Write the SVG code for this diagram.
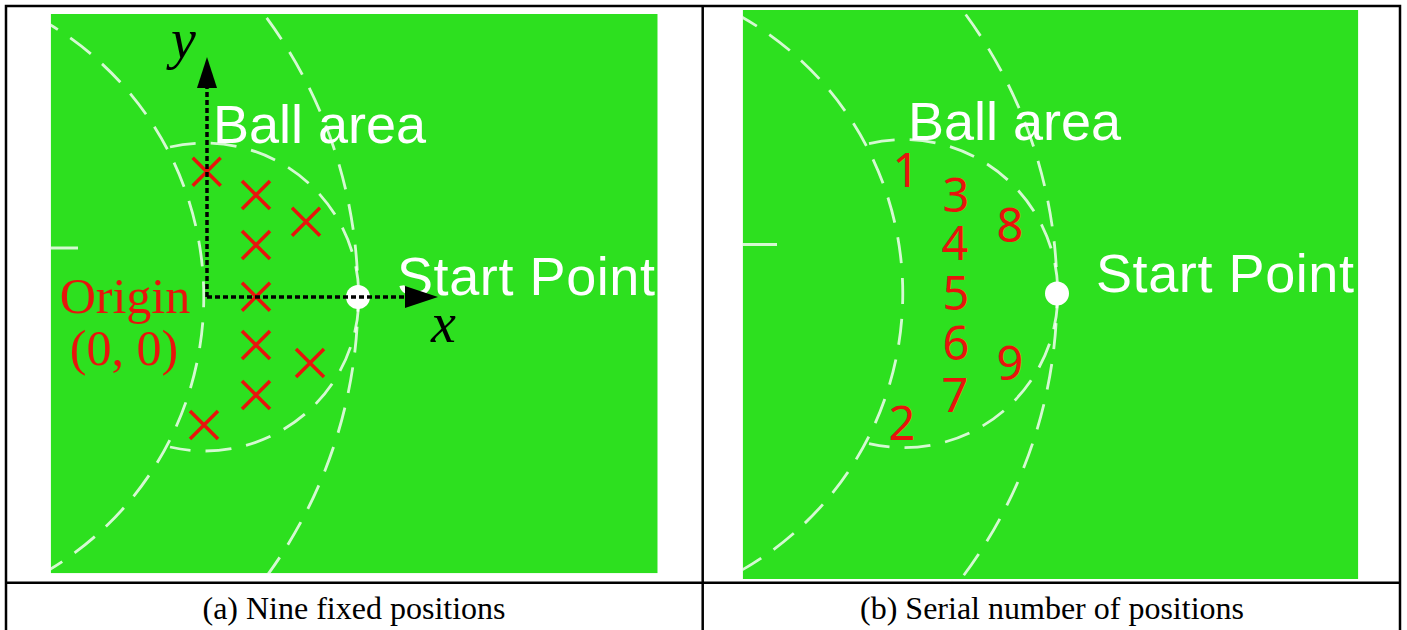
<svg xmlns="http://www.w3.org/2000/svg" xmlns:xlink="http://www.w3.org/1999/xlink" width="1407" height="630" viewBox="0 0 1407 630">
<style>
.grid{stroke:#000;stroke-width:2.5;fill:none}
.field{fill:#2de01f}
.arc{fill:none;stroke:#fff;stroke-opacity:0.8;stroke-width:2.8;stroke-dasharray:26 15}
.axis{fill:none;stroke:#000;stroke-width:3.5;stroke-dasharray:5 3}
.cross{stroke:#e8140c;stroke-width:3.5;fill:none}
.lbl{font-family:"Liberation Sans",Arial,sans-serif;font-size:54px;fill:#fff}
.num{font-family:"Noto Sans","DejaVu Sans",sans-serif;font-size:47px;fill:#e8140c;text-anchor:middle}
.red{font-family:"Liberation Serif","Times New Roman",serif;font-size:50px;fill:#e8140c;text-anchor:middle}
.it{font-family:"Liberation Serif","Times New Roman",serif;font-style:italic;font-size:56px;fill:#000}
.cap{font-family:"Liberation Serif","Times New Roman",serif;font-size:32px;fill:#000;text-anchor:middle}
</style>
<defs>
<clipPath id="ca"><rect x="50.7" y="14" width="607" height="559.3"/></clipPath>
<clipPath id="cb"><rect x="742.7" y="10" width="615.6" height="569"/></clipPath>
<g id="lines">
<path class="arc" style="stroke-dashoffset:5.2" d="M40 18.9 A318 318 0 0 1 40 575.1"/>
<path class="arc" style="stroke-dashoffset:10" d="M247.6 -6.4 A472 472 0 0 1 247.6 600.4"/>
<path class="arc" d="M170 147 A154 154 0 1 1 170 447"/>
<path d="M40 248H78" stroke="#fff" stroke-opacity="0.8" stroke-width="3"/>
<circle cx="358" cy="297" r="12" fill="#fff"/>
</g>
</defs>

<g id="table">
<path class="grid" d="M6 6H1400M6 4.8V630M1400 4.8V630M702.7 6V630M6 582.7H1400"/>
</g>

<g id="panel-a" clip-path="url(#ca)">
<rect class="field" x="50.7" y="14" width="607" height="559.3"/>
<use xlink:href="#lines" href="#lines"/>
<text class="lbl" x="213" y="143">Ball area</text>
<text class="lbl" x="397" y="295" textLength="258">Start Point</text>
<g id="crosses-a" class="cross">
<path d="M192.7 157.7l28 28m0 -28l-28 28"/>
<path d="M242 181l28 28m0 -28l-28 28"/>
<path d="M292 207.7l28 28m0 -28l-28 28"/>
<path d="M242 231l28 28m0 -28l-28 28"/>
<path d="M242 282.7l28 28m0 -28l-28 28"/>
<path d="M242 331l28 28m0 -28l-28 28"/>
<path d="M296 349l28 28m0 -28l-28 28"/>
<path d="M242 381l28 28m0 -28l-28 28"/>
<path d="M190 411l28 28m0 -28l-28 28"/>
</g>
<g id="axes">
<path class="axis" d="M207 297V88"/>
<polygon points="197,88 207,57 217,88" fill="#000"/>
<path class="axis" d="M207 297H406"/>
<polygon points="405,286 438,297 405,308" fill="#000"/>
<text class="it" x="171" y="58">y</text>
<text class="it" x="431" y="342">x</text>
</g>
<g id="origin">
<text class="red" x="125" y="313">Origin</text>
<text class="red" x="124" y="365">(0, 0)</text>
</g>
</g>

<g id="panel-b" clip-path="url(#cb)">
<rect class="field" x="742.7" y="10" width="615.6" height="569"/>
<g transform="translate(699,-3.4)"><use xlink:href="#lines" href="#lines"/></g>
<text class="lbl" x="908" y="140">Ball area</text>
<text class="lbl" x="1096" y="292" textLength="258">Start Point</text>
<g id="numbers">
<text class="num" x="906" y="187">1</text>
<text class="num" x="902" y="440">2</text>
<text class="num" x="956" y="212">3</text>
<text class="num" x="955" y="260">4</text>
<text class="num" x="956" y="310">5</text>
<text class="num" x="956" y="360">6</text>
<text class="num" x="955" y="412">7</text>
<text class="num" x="1010" y="242">8</text>
<text class="num" x="1010" y="380">9</text>
</g>
</g>

<g id="captions">
<text class="cap" x="354" y="619">(a) Nine fixed positions</text>
<text class="cap" x="1052" y="619">(b) Serial number of positions</text>
</g>
</svg>
